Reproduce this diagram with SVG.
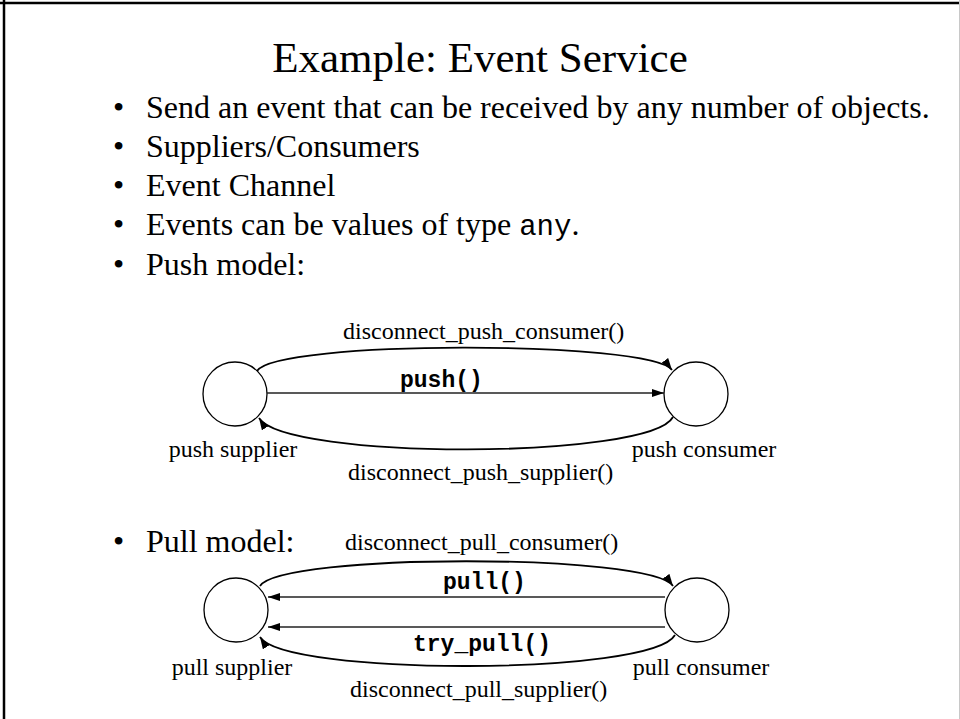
<svg xmlns="http://www.w3.org/2000/svg" width="960" height="719" viewBox="0 0 960 719">
<style>
.serif{font-family:"Liberation Serif","Times New Roman",serif;fill:#000}
.mono{font-family:"Liberation Mono","Courier New",monospace;fill:#000}
.title{font-size:43px}
.bul{font-size:32px}
.lbl{font-size:24px}
.code{font-size:23px;font-weight:bold}
.node{fill:#fff;stroke:#000;stroke-width:1.3}
.arc{fill:none;stroke:#000;stroke-width:1.8}
.line{fill:none;stroke:#222;stroke-width:1.4}
</style>
<defs>
<marker id="ah" viewBox="0 0 12 8" refX="12" refY="4" markerWidth="12" markerHeight="8" markerUnits="userSpaceOnUse" orient="auto">
<path d="M0,0 L12,4 L0,8 Z" fill="#000"/>
</marker>
</defs>
<rect width="960" height="719" fill="#fff"/>
<g id="frame">
<line x1="0" y1="3" x2="960" y2="3" stroke="#000" stroke-width="2.5"/>
<line x1="4" y1="0" x2="4" y2="719" stroke="#000" stroke-width="2.5"/>
<line x1="959.5" y1="0" x2="959.5" y2="719" stroke="#c8c8c8" stroke-width="1"/>
</g>
<text class="serif title" x="480" y="72" text-anchor="middle">Example: Event Service</text>
<g id="bullets" class="serif bul">
<text x="113" y="118">•</text><text x="146" y="118">Send an event that can be received by any number of objects.</text>
<text x="113" y="157">•</text><text x="146" y="157">Suppliers/Consumers</text>
<text x="113" y="196">•</text><text x="146" y="196">Event Channel</text>
<text x="113" y="235">•</text><text x="146" y="235">Events can be values of type <tspan class="mono" font-size="29">any</tspan>.</text>
<text x="113" y="275">•</text><text x="146" y="275">Push model:</text>
<text x="113" y="552">•</text><text x="146" y="552">Pull model:</text>
</g>
<g id="push-supplier">
<circle class="node" cx="235" cy="394" r="32"/>
<text class="serif lbl" x="233" y="457" text-anchor="middle">push supplier</text>
</g>
<g id="push-consumer">
<circle class="node" cx="696" cy="394" r="32"/>
<text class="serif lbl" x="704" y="457" text-anchor="middle">push consumer</text>
</g>
<g id="pull-supplier">
<circle class="node" cx="236" cy="610" r="32"/>
<text class="serif lbl" x="232" y="675" text-anchor="middle">pull supplier</text>
</g>
<g id="pull-consumer">
<circle class="node" cx="697" cy="610" r="32"/>
<text class="serif lbl" x="701" y="675" text-anchor="middle">pull consumer</text>
</g>
<g id="connectors">
<path class="arc" d="M257,371 C275,340 650,340 672,370" marker-end="url(#ah)"/>
<path class="line" d="M267,393 L664,393" marker-end="url(#ah)"/>
<path class="arc" d="M673,417 C650,460 285,460 259,418" marker-end="url(#ah)"/>
<path class="arc" d="M260,586 C282,553 650,553 673,586" marker-end="url(#ah)"/>
<path class="line" d="M665,597 L268,597" marker-end="url(#ah)"/>
<path class="line" d="M665,627 L268,627" marker-end="url(#ah)"/>
<path class="arc" d="M675,635 C652,676 284,676 260,637" marker-end="url(#ah)"/>
<text class="serif lbl" x="343" y="339">disconnect_push_consumer()</text>
<text class="mono code" x="400" y="387">push()</text>
<text class="serif lbl" x="348" y="480">disconnect_push_supplier()</text>
<text class="serif lbl" x="345" y="550">disconnect_pull_consumer()</text>
<text class="mono code" x="443" y="589">pull()</text>
<text class="mono code" x="413" y="651">try_pull()</text>
<text class="serif lbl" x="350" y="697">disconnect_pull_supplier()</text>
</g>
</svg>
